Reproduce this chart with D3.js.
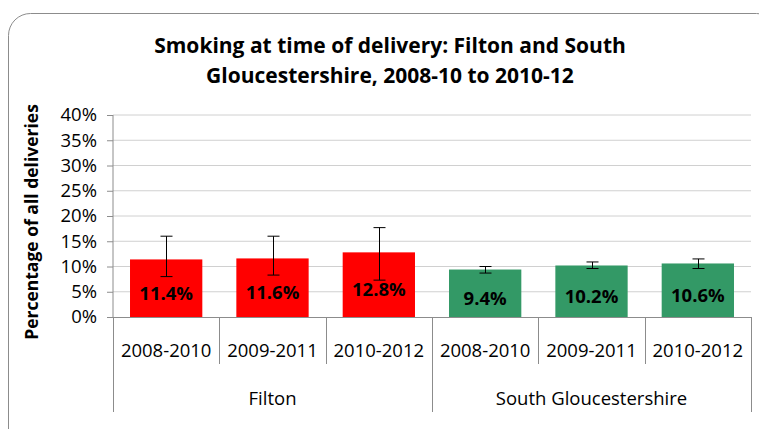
<!DOCTYPE html>
<html>
<head>
<meta charset="utf-8">
<script src="https://cdn.jsdelivr.net/npm/d3@7"></script>
<style>
  body { margin: 0; background: #fff; }
  text { font-family: "Open Sans", sans-serif; fill: #000; }
</style>
</head>
<body>
<script>
// data
var groups = ["Filton", "South Gloucestershire"];
var periods = ["2008-2010", "2009-2011", "2010-2012"];
var values = [11.4, 11.6, 12.8, 9.4, 10.2, 10.6];
var lowerCI = [8.0, 8.3, 7.3, 8.7, 9.6, 9.6];
var upperCI = [16.0, 16.0, 17.7, 10.0, 10.9, 11.5];
var yTicks = [0, 5, 10, 15, 20, 25, 30, 35, 40];
var colors = ["#ff0000", "#339966"];

var width = 759;
var height = 429;

var svg = d3.select("body").append("svg")
    .attr("width", width)
    .attr("height", height);

// frame
svg.append("rect")
    .attr("x", 8.5).attr("y", 13.5)
    .attr("width", 770).attr("height", 440)
    .attr("rx", 22).attr("ry", 22)
    .attr("fill", "#fff")
    .attr("stroke", "#8c8c8c")
    .attr("stroke-width", 1);

// title
var title = svg.append("text")
    .attr("text-anchor", "middle")
    .style("font-weight", "bold")
    .style("font-size", "21px");
title.append("tspan").attr("x", 390).attr("y", 53).text("Smoking at time of delivery: Filton and South");
title.append("tspan").attr("x", 390).attr("y", 83).text("Gloucestershire, 2008-10 to 2010-12");

var plotMargins = { top: 115, left: 113, right: 8, bottom: 112 };
var plotWidth = width - plotMargins.left - plotMargins.right;
var plotHeight = height - plotMargins.top - plotMargins.bottom;

var plot = svg.append("g")
    .attr("transform", "translate(" + plotMargins.left + "," + plotMargins.top + ")");

// one slot per bar
var cats = [];
groups.forEach(function (g, gi) {
    periods.forEach(function (p, pi) {
        cats.push({ group: g, gi: gi, period: p, i: gi * periods.length + pi });
    });
});

var xScale = d3.scaleBand()
    .domain(cats.map(function (d) { return d.i; }))
    .range([0, plotWidth])
    .paddingInner(0.32)
    .paddingOuter(0.16);

var slot = d3.scaleBand()
    .domain(cats.map(function (d) { return d.i; }))
    .range([0, plotWidth]);

var yScale = d3.scaleLinear().domain([0, 40]).range([plotHeight, 0]);

// gridlines
plot.append("g").selectAll("line")
    .data(yTicks.filter(function (t) { return t > 0; }))
    .join("line")
    .attr("x1", 0).attr("x2", plotWidth)
    .attr("y1", function (d) { return yScale(d); })
    .attr("y2", function (d) { return yScale(d); })
    .attr("stroke", "#d0d0d0");

// y axis
var yAxis = d3.axisLeft(yScale)
    .tickValues(yTicks)
    .tickSize(6)
    .tickPadding(10)
    .tickFormat(function (d) { return d + "%"; });
var yAxisGroup = plot.append("g").call(yAxis);
yAxisGroup.select(".domain").attr("stroke", "#8c8c8c").attr("d", "M0,0V" + plotHeight);
yAxisGroup.selectAll(".tick line").attr("stroke", "#8c8c8c");
yAxisGroup.selectAll(".tick text")
    .style("font-size", "18.5px")
    .style("font-family", "'Open Sans', sans-serif")
    .attr("fill", "#000");

// y title
svg.append("text")
    .attr("transform", "translate(38,222) rotate(-90)")
    .attr("text-anchor", "middle")
    .style("font-weight", "bold")
    .style("font-size", "17.5px")
    .text("Percentage of all deliveries");

// bars
plot.append("g").selectAll("rect")
    .data(cats)
    .join("rect")
    .attr("x", function (d) { return xScale(d.i); })
    .attr("width", xScale.bandwidth())
    .attr("y", function (d) { return yScale(values[d.i]); })
    .attr("height", function (d) { return plotHeight - yScale(values[d.i]); })
    .attr("fill", function (d) { return colors[d.gi]; });

// error bars
var err = plot.append("g").attr("stroke", "#000").attr("stroke-width", 1);
cats.forEach(function (d) {
    var cx = Math.round(xScale(d.i) + xScale.bandwidth() / 2) + 0.5;
    var y1 = yScale(upperCI[d.i]);
    var y2 = yScale(lowerCI[d.i]);
    err.append("line").attr("x1", cx).attr("x2", cx).attr("y1", y1).attr("y2", y2);
    err.append("line").attr("x1", cx - 6).attr("x2", cx + 6).attr("y1", y1).attr("y2", y1);
    err.append("line").attr("x1", cx - 6).attr("x2", cx + 6).attr("y1", y2).attr("y2", y2);
});

// value labels
plot.append("g").selectAll("text")
    .data(cats)
    .join("text")
    .attr("x", function (d) { return xScale(d.i) + xScale.bandwidth() / 2; })
    .attr("y", function (d) { return (yScale(values[d.i]) + plotHeight) / 2 + 5; })
    .attr("dy", "0.35em")
    .attr("text-anchor", "middle")
    .style("font-weight", "bold")
    .style("font-size", "18.5px")
    .text(function (d) { return values[d.i].toFixed(1) + "%"; });

// x axis line
plot.append("line")
    .attr("x1", 0).attr("x2", plotWidth)
    .attr("y1", plotHeight + 0.5).attr("y2", plotHeight + 0.5)
    .attr("stroke", "#8c8c8c");

// category dividers
var divs = plot.append("g").attr("stroke", "#8c8c8c");
d3.range(cats.length + 1).forEach(function (k) {
    var x = Math.round(k === cats.length ? plotWidth : slot(k)) + 0.5;
    var long = k % periods.length === 0;
    divs.append("line")
        .attr("x1", x).attr("x2", x)
        .attr("y1", plotHeight)
        .attr("y2", plotHeight + (long ? 95 : 47));
});

// period labels
plot.append("g").selectAll("text")
    .data(cats)
    .join("text")
    .attr("x", function (d) { return slot(d.i) + slot.bandwidth() / 2; })
    .attr("y", plotHeight + 40)
    .attr("text-anchor", "middle")
    .style("font-size", "18.5px")
    .text(function (d) { return d.period; });

// group labels
plot.append("g").selectAll("text")
    .data(groups)
    .join("text")
    .attr("x", function (d, gi) {
        return slot(gi * periods.length) + slot.step() * periods.length / 2;
    })
    .attr("y", plotHeight + 88)
    .attr("text-anchor", "middle")
    .style("font-size", "18.5px")
    .text(function (d) { return d; });
</script>
</body>
</html>
